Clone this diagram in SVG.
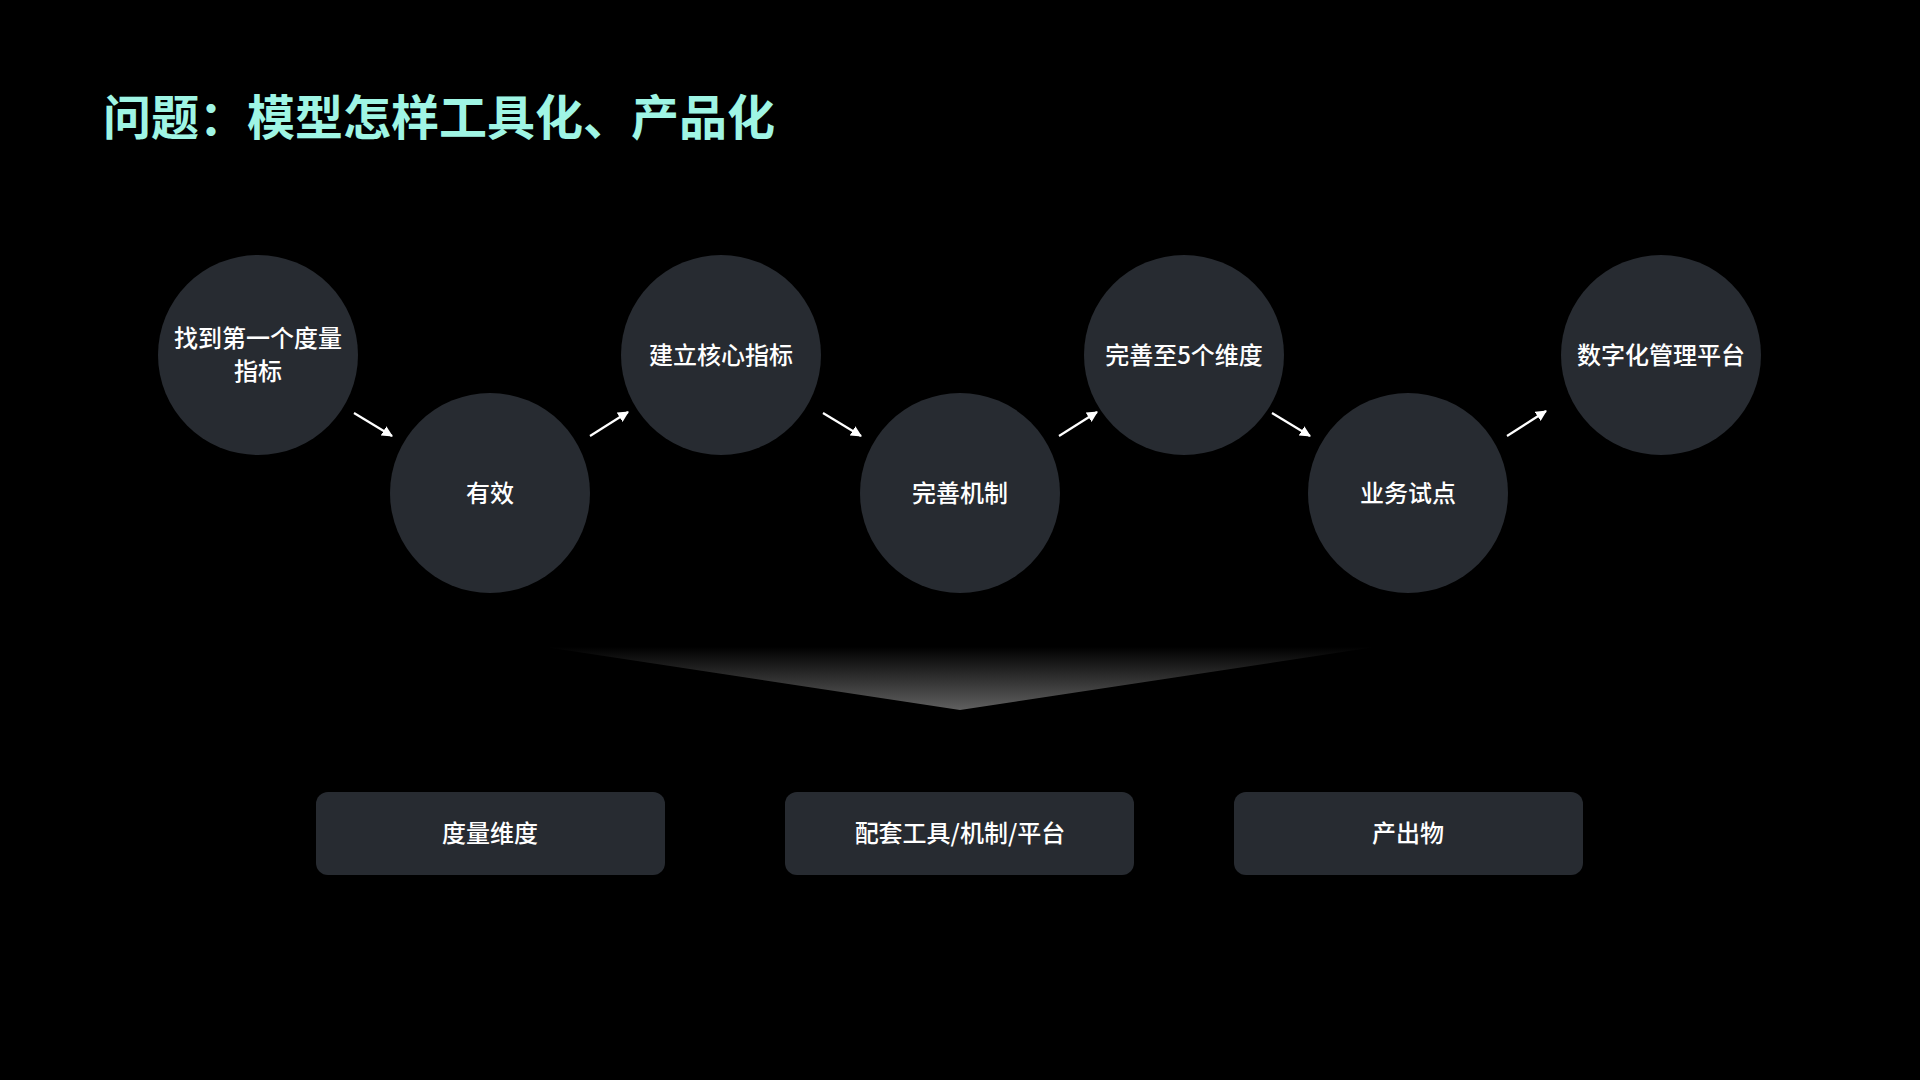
<svg xmlns="http://www.w3.org/2000/svg" width="1920" height="1080" viewBox="0 0 1920 1080">
  <defs>
    <style>
      .node circle { fill: #272b31; }
      .box rect { fill: #272b31; }
      .label { fill: #ffffff; font-family: "Noto Sans CJK SC", "Noto Sans", sans-serif; font-size: 24px; font-weight: 500; text-anchor: middle; }
      .title { fill: #9ff5e4; font-family: "Noto Sans CJK SC", "Noto Sans", sans-serif; font-size: 48px; font-weight: 700; }
      .conn line { stroke: #ffffff; stroke-width: 2.2; marker-end: url(#arrow); }
    </style>
    <marker id="arrow" viewBox="0 0 10 10" refX="9" refY="5" markerWidth="5" markerHeight="5" orient="auto" markerUnits="strokeWidth">
      <path d="M0,0 L10,5 L0,10 Z" fill="#ffffff"/>
    </marker>
    <linearGradient id="funnel" x1="0" y1="647" x2="0" y2="710" gradientUnits="userSpaceOnUse">
      <stop offset="0" stop-color="#000000"/>
      <stop offset="1" stop-color="#606060"/>
    </linearGradient>
  </defs>
  <rect x="0" y="0" width="1920" height="1080" fill="#000000"/>

  <text class="title" x="103" y="135">问题：模型怎样工具化、产品化</text>

  <g id="connectors" class="conn">
    <line x1="354" y1="413" x2="392" y2="436"/>
    <line x1="590" y1="436" x2="628" y2="412"/>
    <line x1="823" y1="413" x2="861" y2="436"/>
    <line x1="1059" y1="436" x2="1097" y2="412"/>
    <line x1="1272" y1="413" x2="1310" y2="436"/>
    <line x1="1507" y1="436" x2="1546" y2="411"/>
  </g>

  <g id="n1" class="node">
    <circle cx="258" cy="355" r="100"/>
    <text class="label" x="258" y="347">找到第一个度量</text>
    <text class="label" x="258" y="380">指标</text>
  </g>
  <g id="n2" class="node">
    <circle cx="490" cy="493" r="100"/>
    <text class="label" x="490" y="502">有效</text>
  </g>
  <g id="n3" class="node">
    <circle cx="721" cy="355" r="100"/>
    <text class="label" x="721" y="364">建立核心指标</text>
  </g>
  <g id="n4" class="node">
    <circle cx="960" cy="493" r="100"/>
    <text class="label" x="960" y="502">完善机制</text>
  </g>
  <g id="n5" class="node">
    <circle cx="1184" cy="355" r="100"/>
    <text class="label" x="1184" y="364">完善至5个维度</text>
  </g>
  <g id="n6" class="node">
    <circle cx="1408" cy="493" r="100"/>
    <text class="label" x="1408" y="502">业务试点</text>
  </g>
  <g id="n7" class="node">
    <circle cx="1661" cy="355" r="100"/>
    <text class="label" x="1661" y="364">数字化管理平台</text>
  </g>

  <g id="funnel-shape">
    <polygon points="545,647 1375,647 960,710" fill="url(#funnel)"/>
  </g>

  <g id="b1" class="box">
    <rect x="316" y="792" width="349" height="83" rx="12"/>
    <text class="label" x="490" y="842">度量维度</text>
  </g>
  <g id="b2" class="box">
    <rect x="785" y="792" width="349" height="83" rx="12"/>
    <text class="label" x="960" y="842">配套工具/机制/平台</text>
  </g>
  <g id="b3" class="box">
    <rect x="1234" y="792" width="349" height="83" rx="12"/>
    <text class="label" x="1408" y="842">产出物</text>
  </g>
</svg>
